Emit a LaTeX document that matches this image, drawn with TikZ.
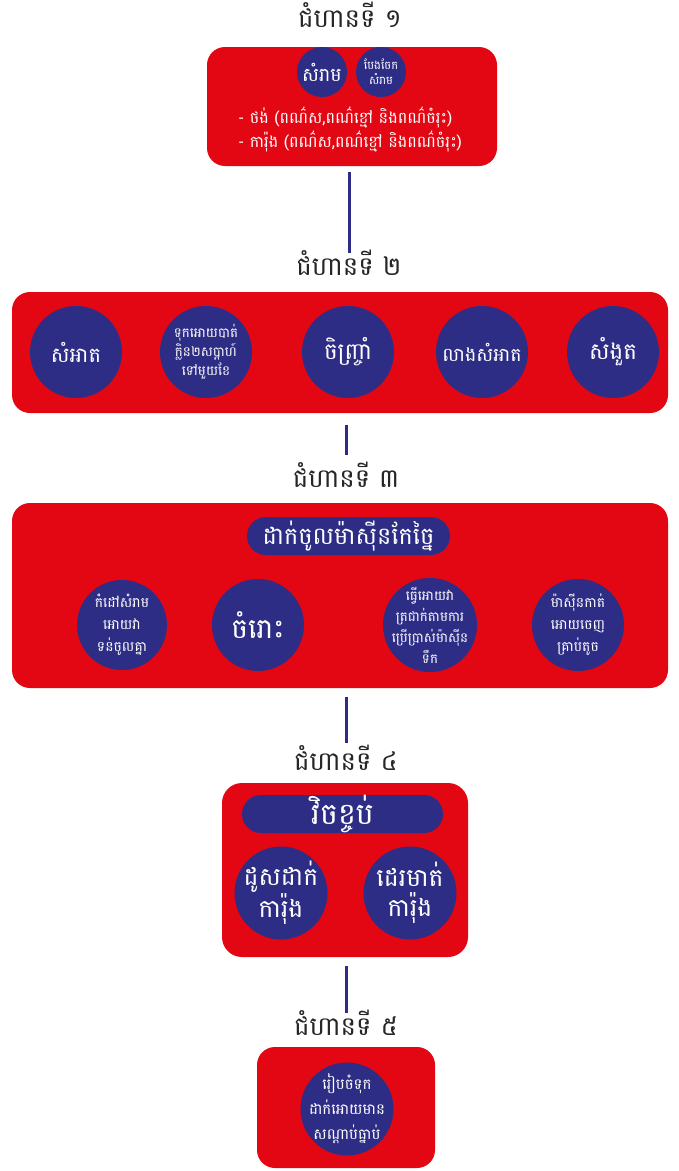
\documentclass[tikz,border=0pt]{standalone}
\usepackage{fontspec}
\setmainfont[Script=Khmer]{Battambang}
\definecolor{stepred}{HTML}{E30613}
\definecolor{stepblue}{HTML}{2E2D86}
\tikzset{
  stepbox/.style={fill=stepred, rounded corners=18pt, inner sep=0pt},
  dot/.style={circle, fill=stepblue, text=white, minimum size=#1, inner sep=-20pt, align=center},
  dot/.default=92pt,
  bar/.style={fill=stepblue, text=white, rounded corners=19pt, minimum height=38pt, inner sep=0pt},
  title/.style={font=\fontsize{26}{28}\selectfont, text=black!85, text height=14pt, text depth=4pt, inner ysep=8pt},
  link/.style={stepblue, line width=3pt}
}
\begin{document}
\begin{tikzpicture}[x=1pt, y=-1pt]
  \useasboundingbox (0,0) rectangle (679,1171);

  % Step 1
  \node[title] (t1) at (350,22) {ជំហានទី ១};
  \node[stepbox, minimum width=290pt, minimum height=119pt] (s1) at (352,106.5) {};
  \node[dot=50pt, font=\fontsize{19}{20}\selectfont] (c11) at (322,72) {សំរាម};
  \node[dot=50pt, font=\fontsize{11.5}{15}\selectfont] (c12) at (381,72) {បែងចែក\\សំរាម};
  \node[text=white, align=left, font=\fontsize{16}{24}\selectfont] (l1) at (350,129)
    {- ថង់ (ពណ៌ស,ពណ៌ខ្មៅ និងពណ៌ចំរុះ)\\- ការ៉ុង (ពណ៌ស,ពណ៌ខ្មៅ និងពណ៌ចំរុះ)};

  % Step 2
  \node[title] (t2) at (349,270) {ជំហានទី ២};
  \node[stepbox, minimum width=656pt, minimum height=121pt] (s2) at (340,352.5) {};
  \node[dot, font=\fontsize{21}{22}\selectfont] (c21) at (76,352) {សំអាត};
  \node[dot, font=\fontsize{13.5}{19}\selectfont] (c22) at (206,352) {ទុកអោយបាត់\\ក្លិន២សប្តាហ៍\\ទៅមួយខែ};
  \node[dot, font=\fontsize{23}{24}\selectfont] (c23) at (348,352) {ចិញ្ច្រាំ};
  \node[dot, font=\fontsize{19}{20}\selectfont] (c24) at (482,352) {លាងសំអាត};
  \node[dot, font=\fontsize{23}{24}\selectfont] (c25) at (613,352) {សំងួត};

  % Step 3
  \node[title] (t3) at (346,482) {ជំហានទី ៣};
  \node[stepbox, minimum width=656pt, minimum height=185pt] (s3) at (340,595.5) {};
  \node[bar, minimum width=203pt, font=\fontsize{24}{26}\selectfont] (b3) at (348.5,536) {ដាក់ចូលម៉ាស៊ីនកែច្នៃ};
  \node[dot=90pt, font=\fontsize{14}{22}\selectfont] (c31) at (122,625) {កំដៅសំរាម\\អោយវា\\ទន់ចូលគ្នា};
  \node[dot, font=\fontsize{28}{30}\selectfont] (c32) at (258,625) {ចំរោះ};
  \node[dot=94pt, font=\fontsize{13.5}{21}\selectfont] (c33) at (430,625) {ធ្វើអោយវា\\ត្រជាក់តាមការ\\ប្រើប្រាស់ម៉ាស៊ីន\\ទឹក};
  \node[dot, font=\fontsize{14}{22}\selectfont] (c34) at (578,625) {ម៉ាស៊ីនកាត់\\អោយចេញ\\គ្រាប់តូច};

  % Step 4
  \node[title] (t4) at (346,765) {ជំហានទី ៤};
  \node[stepbox, rounded corners=20pt, minimum width=246pt, minimum height=174pt] (s4) at (345,870) {};
  \node[bar, minimum width=201pt, font=\fontsize{30}{32}\selectfont] (b4) at (342.5,814) {វិចខ្ចប់};
  \node[dot=93pt, font=\fontsize{25}{30}\selectfont] (c41) at (281,893) {ដូសដាក់\\ការ៉ុង};
  \node[dot=93pt, font=\fontsize{25}{30}\selectfont] (c42) at (410,893) {ដេរមាត់\\ការ៉ុង};

  % Step 5
  \node[title] (t5) at (346,1030) {ជំហានទី ៥};
  \node[stepbox, minimum width=178pt, minimum height=121pt] (s5) at (346,1107.5) {};
  \node[dot=93pt, font=\fontsize{15}{25}\selectfont] (c51) at (347,1109) {រៀបចំទុក\\ដាក់អោយមាន\\សណ្តាប់ធ្នាប់};

  % Links
  \draw[link, shorten <=6pt] (s1.south -| t2) -- (t2.north);
  \draw[link, shorten <=12pt, shorten >=10pt] (s2.south -| t3) -- (t3.north);
  \draw[link, shorten <=9pt, shorten >=5pt] (s3.south -| t4) -- (t4.north);
  \draw[link, shorten <=9pt] (s4.south -| t5) -- (t5.north);
\end{tikzpicture}
\end{document}
